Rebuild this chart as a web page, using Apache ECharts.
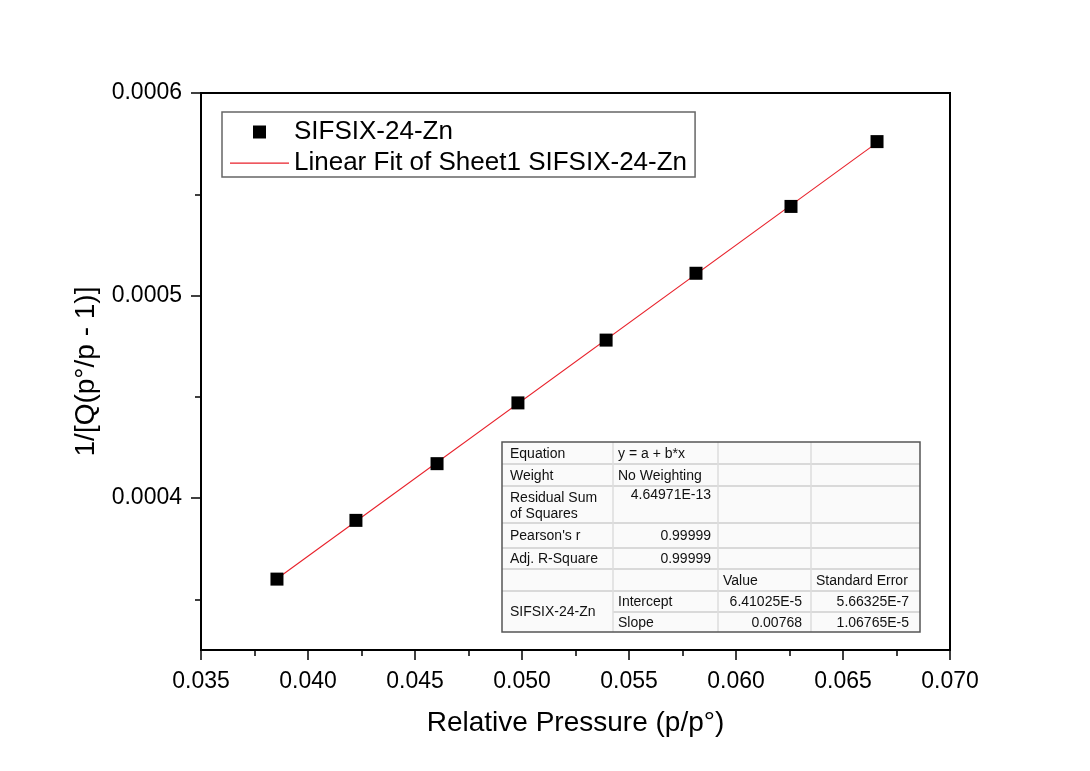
<!DOCTYPE html>
<html>
<head>
<meta charset="utf-8">
<script src="https://cdn.jsdelivr.net/npm/echarts@6/dist/echarts.min.js"></script>
<style>
  html, body { margin: 0; padding: 0; background: #fff; }
  #chart { width: 1090px; height: 771px; }
</style>
</head>
<body>
<div id="chart"></div>
<script>
// data
const pressure = [0.03855, 0.04224, 0.04603, 0.04981, 0.05393, 0.05813, 0.06257, 0.06659];
const inverseQ = [0.000360, 0.000389, 0.000417, 0.000447, 0.000478, 0.000511, 0.000544, 0.000576];

// fit parameters (from the stats table)
const intercept = 6.41025e-5;
const slope = 0.00768;

const xTicks = [0.035, 0.040, 0.045, 0.050, 0.055, 0.060, 0.065, 0.070];
const yTicks = [0.0004, 0.0005, 0.0006];
const yMinorTicks = [0.00035, 0.00045, 0.00055];

const scatterName = 'SIFSIX-24-Zn';
const fitName = 'Linear Fit of Sheet1 SIFSIX-24-Zn';

// stats table rows: [col1, col2, col3, col4]
const tableRows = [
  ['Equation', 'y = a + b*x', '', ''],
  ['Weight', 'No Weighting', '', ''],
  ['Residual Sum\nof Squares', '4.64971E-13', '', ''],
  ["Pearson's r", '0.99999', '', ''],
  ['Adj. R-Square', '0.99999', '', ''],
  ['', '', 'Value', 'Standard Error'],
  ['SIFSIX-24-Zn', 'Intercept', '6.41025E-5', '5.66325E-7'],
  ['', 'Slope', '0.00768', '1.06765E-5']
];

const font = 'Liberation Sans, Arial, sans-serif';

// fit line endpoints
const fitX = [pressure[0], pressure[pressure.length - 1]];
const fitData = fitX.map(x => [x, intercept + slope * x]);

// table layout
const tX = [502, 613, 718, 811, 920];
const tY = [442, 464, 486, 523, 548, 569, 591, 612, 632];

let buildTable = () => {
  const els = [];
  els.push({
    type: 'rect', shape: { x: tX[0], y: tY[0], width: tX[4] - tX[0], height: tY[8] - tY[0] },
    style: { fill: '#fafafa', stroke: null }, z: 10
  });
  // horizontal lines
  for (let i = 1; i < tY.length - 1; i++) {
    const x0 = (i === 7) ? tX[1] : tX[0];
    els.push({
      type: 'line', shape: { x1: x0, y1: tY[i], x2: tX[4], y2: tY[i] },
      style: { stroke: '#d9d9d9', lineWidth: 2 }, z: 11
    });
  }
  // vertical lines
  for (let j = 1; j < 4; j++) {
    els.push({
      type: 'line', shape: { x1: tX[j], y1: tY[0], x2: tX[j], y2: tY[8] },
      style: { stroke: '#dcdcdc', lineWidth: 1.5 }, z: 11
    });
  }
  els.push({
    type: 'rect', shape: { x: tX[0], y: tY[0], width: tX[4] - tX[0], height: tY[8] - tY[0] },
    style: { fill: null, stroke: '#555', lineWidth: 1.5 }, z: 12
  });
  const txt = (s, x, y, align) => ({
    type: 'text', x: x, y: y, z: 13,
    style: { text: s, fill: '#111', font: '14px ' + font, textAlign: align, textVerticalAlign: 'middle' }
  });
  tableRows.forEach((row, i) => {
    let cy = (tY[i] + tY[i + 1]) / 2 + 1;
    if (i === 2) {
      els.push(txt('Residual Sum', 510, 498, 'left'));
      els.push(txt('of Squares', 510, 514, 'left'));
      els.push(txt(row[1], 711, 495, 'right'));
      return;
    }
    if (i === 6) {
      els.push(txt(row[0], 510, (tY[6] + tY[8]) / 2 + 1, 'left'));
    } else if (row[0]) {
      els.push(txt(row[0], 510, cy, 'left'));
    }
    if (row[1]) {
      const numeric = /^[0-9]/.test(row[1]);
      els.push(txt(row[1], numeric ? 711 : 618, cy, numeric ? 'right' : 'left'));
    }
    if (row[2]) {
      els.push(i === 5 ? txt(row[2], 723, cy, 'left') : txt(row[2], 802, cy, 'right'));
    }
    if (row[3]) {
      els.push(i === 5 ? txt(row[3], 816, cy, 'left') : txt(row[3], 909, cy, 'right'));
    }
  });
  return els;
};

const myChart = echarts.init(document.getElementById('chart'));

const option = {
  backgroundColor: '#fff',
  animation: false,
  textStyle: { fontFamily: font },
  grid: {
    left: 201, top: 93, right: 140, bottom: 121,
    show: true, borderColor: '#000', borderWidth: 2, backgroundColor: 'transparent'
  },
  legend: {
    orient: 'vertical',
    left: 222, top: 112,
    padding: [7, 8, 1, 8],
    itemGap: 5,
    itemWidth: 59, itemHeight: 13,
    borderColor: '#666', borderWidth: 1.5, borderRadius: 0,
    textStyle: { fontSize: 26, color: '#000', fontFamily: font },
    data: [
      { name: scatterName, icon: 'path://M0,0M59,13M23,0h13v13h-13z' },
      { name: fitName, icon: 'path://M0,0M59,13M0,6h59v1.3h-59z' }
    ]
  },
  xAxis: {
    type: 'value',
    min: 0.035, max: 0.07, interval: 0.005,
    name: 'Relative Pressure (p/p°)',
    nameLocation: 'middle', nameGap: 59,
    nameTextStyle: { fontSize: 28, color: '#000', fontFamily: font },
    axisLine: { show: true, lineStyle: { color: '#000', width: 2 } },
    axisTick: { show: true, inside: false, length: 10, lineStyle: { color: '#000', width: 1.5 } },
    minorTick: { show: true, splitNumber: 2, length: 6, lineStyle: { color: '#000', width: 1.5 } },
    axisLabel: {
      fontSize: 23, color: '#000', margin: 20,
      formatter: v => v.toFixed(3)
    },
    splitLine: { show: false }
  },
  yAxis: [{
    type: 'value',
    min: 0.000325, max: 0.0006,
    name: '1/[Q(p°/p - 1)]',
    nameLocation: 'middle', nameGap: 97,
    nameTextStyle: { fontSize: 28, color: '#000', fontFamily: font },
    axisLine: { show: true, lineStyle: { color: '#000', width: 2 } },
    axisTick: { show: true, inside: false, length: 10, customValues: yTicks, lineStyle: { color: '#000', width: 1.5 } },
    axisLabel: {
      fontSize: 23, color: '#000', margin: 19, customValues: yTicks,
      formatter: v => v.toFixed(4)
    },
    splitLine: { show: false }
  }, {
    type: 'value',
    position: 'left',
    min: 0.000325, max: 0.0006,
    axisLine: { show: false },
    axisTick: { show: true, inside: false, length: 6, customValues: yMinorTicks, lineStyle: { color: '#000', width: 1.5 } },
    axisLabel: { show: false },
    splitLine: { show: false }
  }],
  series: [{
    name: fitName,
    type: 'line',
    data: fitData,
    symbol: 'none',
    itemStyle: { color: '#e8202a' },
    lineStyle: { color: '#e8202a', width: 1.1 },
    z: 2
  }, {
    name: scatterName,
    type: 'scatter',
    data: pressure.map((x, i) => [x, inverseQ[i]]),
    symbol: 'rect',
    symbolSize: 13,
    itemStyle: { color: '#000', opacity: 1 },
    z: 3
  }],
  graphic: buildTable()
};

myChart.setOption(option);
</script>
</body>
</html>
